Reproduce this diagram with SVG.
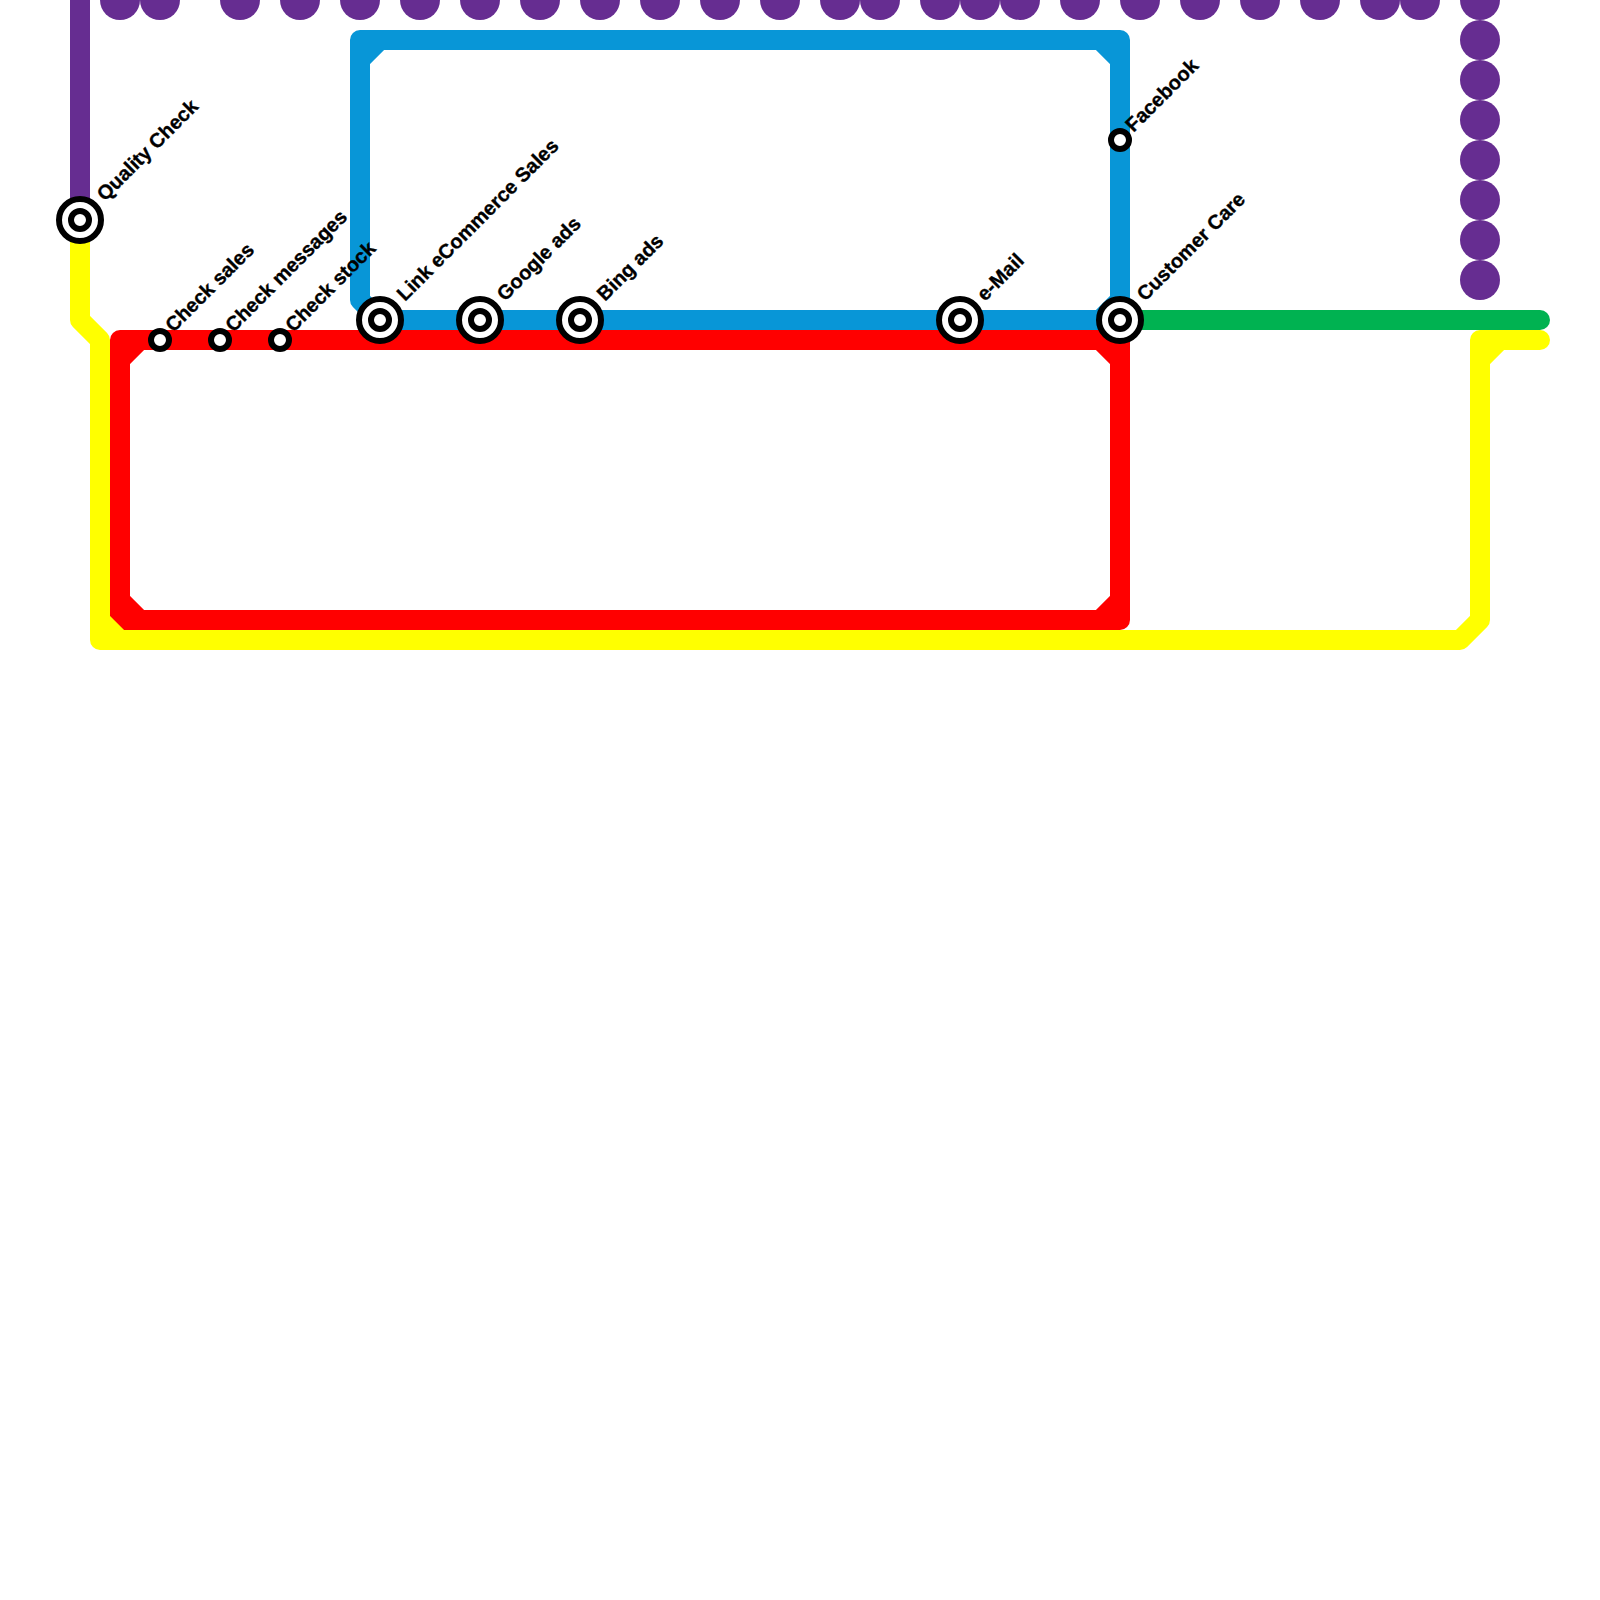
<svg xmlns="http://www.w3.org/2000/svg" width="1600" height="1600" viewBox="0 0 1600 1600">
<style>
.l{fill:none;stroke-width:20;stroke-linejoin:round;stroke-linecap:round}
.d{fill:#662D91}
.o{fill:#fff;stroke:#000;stroke-width:6}
text{font-family:"Liberation Sans",Arial,sans-serif;font-weight:700;font-size:20px;fill:#000;stroke:#000;stroke-width:.35;text-rendering:geometricPrecision}
</style>
<defs>
<circle id="dot" class="d" r="20"/>
<g id="big"><circle class="o" r="21"/><circle class="o" r="9"/></g>
<circle id="small" class="o" r="9"/>
</defs>
<rect width="1600" height="1600" fill="#fff"/>
<g id="connectors">
<g id="purple-dots">
<use href="#dot" x="120" y="0"/><use href="#dot" x="160" y="0"/><use href="#dot" x="240" y="0"/><use href="#dot" x="300" y="0"/><use href="#dot" x="360" y="0"/><use href="#dot" x="420" y="0"/><use href="#dot" x="480" y="0"/><use href="#dot" x="540" y="0"/><use href="#dot" x="600" y="0"/><use href="#dot" x="660" y="0"/><use href="#dot" x="720" y="0"/><use href="#dot" x="780" y="0"/><use href="#dot" x="840" y="0"/><use href="#dot" x="880" y="0"/><use href="#dot" x="940" y="0"/><use href="#dot" x="980" y="0"/><use href="#dot" x="1020" y="0"/><use href="#dot" x="1080" y="0"/><use href="#dot" x="1140" y="0"/><use href="#dot" x="1200" y="0"/><use href="#dot" x="1260" y="0"/><use href="#dot" x="1320" y="0"/><use href="#dot" x="1380" y="0"/><use href="#dot" x="1420" y="0"/><use href="#dot" x="1480" y="0"/><use href="#dot" x="1480" y="40"/><use href="#dot" x="1480" y="80"/><use href="#dot" x="1480" y="120"/><use href="#dot" x="1480" y="160"/><use href="#dot" x="1480" y="200"/><use href="#dot" x="1480" y="240"/><use href="#dot" x="1480" y="280"/>
</g>
<path class="l" stroke="#662D91" d="M80 -20V220"/>
<path class="l" stroke="#0896D7" d="M360 300V40H1120V300L1100 320H380ZM360 60L380 40M1100 40L1120 60"/>
<path class="l" stroke="#00B251" d="M1120 320H1540"/>
<path class="l" stroke="#FF0000" d="M120 340H1120V620H120ZM120 360L140 340M1100 340L1120 360M1100 620L1120 600M120 600L140 620"/>
<path class="l" stroke="#FFFF00" d="M80 220V320L100 340V640H1460L1480 620V340H1540M100 620L120 640M1480 360L1500 340"/>
</g>
<g id="n1"><use href="#big" x="80" y="220"/><text transform="translate(105 202) rotate(-45)">Quality Check</text></g>
<g id="n2"><use href="#small" x="160" y="340"/><text transform="translate(173.5 333) rotate(-45)">Check sales</text></g>
<g id="n3"><use href="#small" x="220" y="340"/><text transform="translate(233.5 333) rotate(-45)">Check messages</text></g>
<g id="n4"><use href="#small" x="280" y="340"/><text transform="translate(293.5 333) rotate(-45)">Check stock</text></g>
<g id="n5"><use href="#big" x="380" y="320"/><text transform="translate(405 302) rotate(-45)">Link eCommerce Sales</text></g>
<g id="n6"><use href="#big" x="480" y="320"/><text transform="translate(505 302) rotate(-45)">Google ads</text></g>
<g id="n7"><use href="#big" x="580" y="320"/><text transform="translate(605 302) rotate(-45)">Bing ads</text></g>
<g id="n8"><use href="#big" x="960" y="320"/><text transform="translate(985 302) rotate(-45)">e-Mail</text></g>
<g id="n9"><use href="#big" x="1120" y="320"/><text transform="translate(1145 302) rotate(-45)">Customer Care</text></g>
<g id="n10"><use href="#small" x="1120" y="140"/><text transform="translate(1133.5 133) rotate(-45)">Facebook</text></g>
</svg>
